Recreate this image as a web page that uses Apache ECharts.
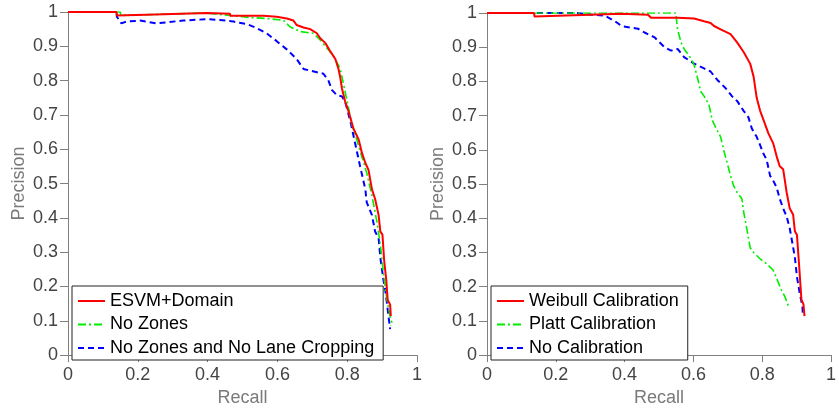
<!DOCTYPE html>
<html><head><meta charset="utf-8">
<script src="https://cdn.jsdelivr.net/npm/echarts@6/dist/echarts.min.js"></script>
<style>html,body{margin:0;padding:0;background:#fff}#c{width:839px;height:412px}</style>
</head><body><div id="c"></div>
<script>
// ---- data ----
const xTickLabels = ['0','0.2','0.4','0.6','0.8','1'];
const yTickLabels = ['0','0.1','0.2','0.3','0.4','0.5','0.6','0.7','0.8','0.9','1'];
const leftNames = ['ESVM+Domain','No Zones','No Zones and No Lane Cropping'];
const rightNames = ['Weibull Calibration','Platt Calibration','No Calibration'];

const esvmRecall = [0,0.139,0.14,0.25,0.397,0.464,0.465,0.56,0.598,0.627,0.646,0.655,0.675,0.694,0.713,0.722,0.737,0.751,0.766,0.775,0.78,0.785,0.794,0.804,0.818,0.833,0.842,0.852,0.861,0.871,0.88,0.89,0.895,0.901,0.906,0.912,0.916,0.923,0.925];
const esvmPrec   = [1,1,0.99,0.993,0.997,0.995,0.989,0.989,0.986,0.981,0.975,0.962,0.955,0.95,0.938,0.924,0.91,0.886,0.863,0.834,0.81,0.777,0.739,0.71,0.66,0.628,0.59,0.56,0.54,0.483,0.455,0.408,0.36,0.351,0.275,0.218,0.161,0.147,0.114];

const nzRecall = [0,0.15,0.151,0.397,0.464,0.522,0.569,0.617,0.636,0.665,0.703,0.722,0.761,0.78,0.79,0.804,0.813,0.828,0.842,0.856,0.871,0.885,0.895,0.904,0.914,0.923,0.928,0.925];
const nzPrec   = [1,1,0.99,0.997,0.99,0.984,0.981,0.976,0.957,0.943,0.938,0.919,0.872,0.834,0.787,0.72,0.673,0.626,0.578,0.531,0.464,0.389,0.322,0.237,0.161,0.114,0.095,0.085];

const nzlcRecall = [0,0.139,0.14,0.153,0.167,0.206,0.254,0.33,0.397,0.435,0.474,0.512,0.541,0.569,0.598,0.627,0.655,0.675,0.694,0.732,0.746,0.756,0.77,0.785,0.794,0.809,0.823,0.837,0.852,0.856,0.871,0.88,0.89,0.895,0.904,0.909,0.916,0.923];
const nzlcPrec   = [1,1,0.986,0.967,0.972,0.975,0.967,0.975,0.979,0.977,0.972,0.965,0.953,0.938,0.915,0.891,0.863,0.834,0.829,0.82,0.801,0.773,0.758,0.754,0.739,0.682,0.616,0.55,0.483,0.445,0.408,0.36,0.341,0.284,0.218,0.19,0.133,0.076];

const weibRecall = [0,0.137,0.138,0.391,0.468,0.477,0.554,0.602,0.631,0.65,0.66,0.679,0.708,0.727,0.746,0.765,0.775,0.784,0.794,0.808,0.818,0.832,0.842,0.851,0.861,0.871,0.88,0.89,0.895,0.901,0.907,0.914,0.92,0.923];
const weibPrec   = [1,1,0.99,0.998,0.995,0.986,0.986,0.984,0.976,0.971,0.962,0.952,0.938,0.914,0.886,0.852,0.814,0.752,0.714,0.676,0.648,0.619,0.581,0.552,0.543,0.476,0.429,0.41,0.362,0.352,0.267,0.162,0.148,0.114];

const plattRecall = [0,0.549,0.554,0.564,0.573,0.593,0.602,0.612,0.621,0.631,0.645,0.655,0.669,0.679,0.688,0.698,0.708,0.717,0.727,0.741,0.746,0.755,0.765,0.775,0.794,0.813,0.832,0.842,0.856,0.866,0.878];
const plattPrec   = [1,1,0.952,0.914,0.895,0.867,0.848,0.81,0.771,0.757,0.733,0.686,0.657,0.638,0.6,0.562,0.524,0.495,0.476,0.457,0.419,0.371,0.314,0.3,0.281,0.267,0.248,0.224,0.19,0.171,0.138];

const nocalRecall = [0,0.26,0.305,0.343,0.372,0.391,0.42,0.439,0.458,0.487,0.516,0.535,0.554,0.573,0.602,0.631,0.65,0.669,0.693,0.712,0.727,0.746,0.76,0.77,0.784,0.794,0.803,0.813,0.823,0.832,0.842,0.851,0.861,0.871,0.88,0.885,0.895,0.901,0.909,0.917,0.918];
const nocalPrec   = [1,1,0.995,0.992,0.976,0.962,0.957,0.954,0.943,0.929,0.9,0.89,0.895,0.871,0.852,0.838,0.829,0.805,0.781,0.757,0.743,0.714,0.695,0.662,0.638,0.614,0.59,0.571,0.524,0.51,0.49,0.457,0.429,0.405,0.371,0.343,0.286,0.229,0.181,0.143,0.119];

// ---- build ----
const zip = (a, b) => a.map((v, i) => [v, b[i]]);
const FONT = 'Liberation Sans';
const styles = [
  {color:'#ff0000', width:2, type:'solid'},
  {color:'#00ee00', width:1.6, type:[8,3,2,3]},
  {color:'#0000ff', width:2, type:[6,4]}
];
function xAxis(gi){
  return {type:'value', gridIndex:gi, min:0, max:1, interval:0.2,
    name:'Recall', nameLocation:'middle', nameGap:27,
    nameTextStyle:{fontFamily:FONT, fontSize:18, color:'#7a7a7a'},
    axisLine:{show:true, lineStyle:{color:'#808080', width:1}},
    axisTick:{show:true, length:7, lineStyle:{color:'#808080'}},
    axisLabel:{fontFamily:FONT, fontSize:18, color:'#444', margin:11,
      formatter:(v)=>xTickLabels[Math.round(v/0.2)]},
    splitLine:{show:false}};
}
function yAxis(gi){
  return {type:'value', gridIndex:gi, min:0, max:1, interval:0.1,
    name:'Precision', nameLocation:'middle', nameGap:40, nameRotate:90,
    nameTextStyle:{fontFamily:FONT, fontSize:18, color:'#7a7a7a'},
    axisLine:{show:true, lineStyle:{color:'#808080', width:1}},
    axisTick:{show:true, length:8, lineStyle:{color:'#808080'}},
    axisLabel:{fontFamily:FONT, fontSize:18, color:'#444', margin:10,
      formatter:(v)=>yTickLabels[Math.round(v/0.1)]},
    splitLine:{show:false}};
}
const leftData = [zip(esvmRecall, esvmPrec), zip(nzRecall, nzPrec), zip(nzlcRecall, nzlcPrec)];
const rightData = [zip(weibRecall, weibPrec), zip(plattRecall, plattPrec), zip(nocalRecall, nocalPrec)];
const series = [];
[[leftNames,leftData,0],[rightNames,rightData,1]].forEach(([names,data,gi])=>{
  names.forEach((n,i)=>{
    series.push({name:n, type:'line', xAxisIndex:gi, yAxisIndex:gi, data:data[i],
      symbol:'none', animation:false, z: 10 - i,
      lineStyle:{color:styles[i].color, width:styles[i].width, type:styles[i].type},
      itemStyle:{color:styles[i].color}});
  });
});
function legend(names, left){
  return {data:names, orient:'vertical', left:left, top:286,
    backgroundColor:'#fff', borderColor:'#222', borderWidth:1,
    padding:[5,9,2,5], itemGap:3.5, itemWidth:27, itemHeight:14,
    itemStyle:{opacity:0, borderWidth:0},
    textStyle:{fontFamily:FONT, fontSize:18, color:'#000', lineHeight:20},
    selectedMode:false};
}
const chart = echarts.init(document.getElementById('c'), null, {renderer:'canvas'});
chart.setOption({
  animation:false,
  backgroundColor:'#fff',
  grid:[{left:68, top:12, width:349, height:351},{left:487, top:13, width:348, height:350}],
  xAxis:[xAxis(0), xAxis(1)],
  yAxis:[yAxis(0), yAxis(1)],
  legend:[legend(leftNames, 72), legend(rightNames, 491)],
  series:series
});
</script></body></html>
